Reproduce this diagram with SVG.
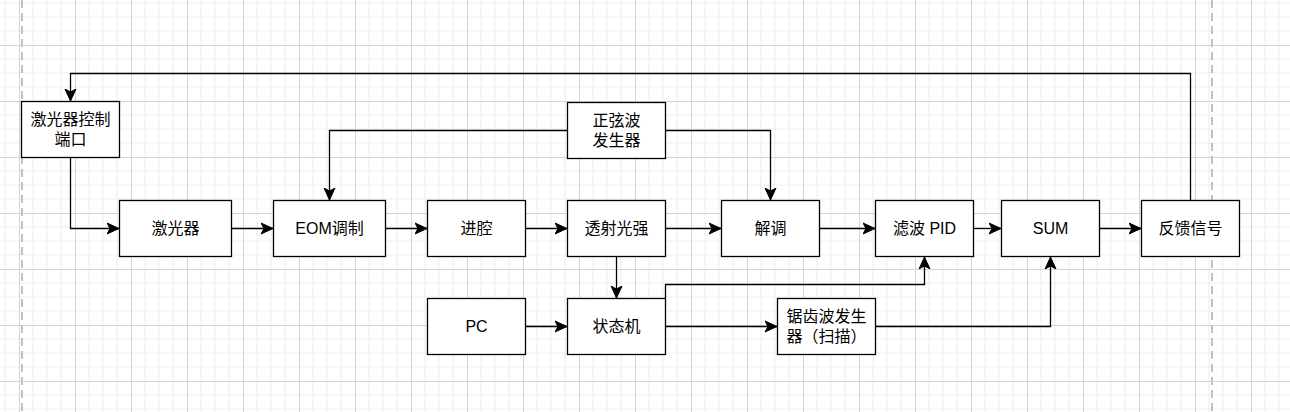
<svg xmlns="http://www.w3.org/2000/svg" width="1290" height="412" viewBox="0 0 1290 412">
<style>
.box{fill:#ffffff;stroke:#000000;stroke-width:1.3}
.lbl{font-family:"Liberation Sans","Noto Sans CJK SC",sans-serif;font-size:16px;fill:#000000;text-anchor:middle;dominant-baseline:central}
.edge{fill:none;stroke:#000000;stroke-width:1.3}
</style>
<defs>
<pattern id="grid" patternUnits="userSpaceOnUse" x="19" y="45" width="56" height="56">
<rect width="56" height="56" fill="#ffffff"/>
<path d="M14 0V56M28 0V56M42 0V56M0 14H56M0 28H56M0 42H56" stroke="#f0f0f0" stroke-width="1.2"/>
<path d="M0.5 0V56M0 0.5H56" stroke="#d4d4d4" stroke-width="1"/>
</pattern>
<marker id="arr" markerUnits="userSpaceOnUse" markerWidth="14" markerHeight="14" viewBox="-12 -7 14 14" refX="0" refY="0" orient="auto">
<path d="M0 0L-12 -5.5L-9 0L-12 5.5Z" fill="#000000" stroke="#000000" stroke-width="1"/>
</marker>
</defs>
<rect width="1290" height="412" fill="url(#grid)"/>
<path d="M22 0V412M1212 0V412" stroke="#c0c0c0" stroke-width="2" stroke-dasharray="8 5"/>
<g id="connectors">
<path class="edge" d="M1190.5 200V73.5H70.5V101" marker-end="url(#arr)"/>
<path class="edge" d="M70.5 158V228.5H119" marker-end="url(#arr)"/>
<path class="edge" d="M231.5 228.5H273" marker-end="url(#arr)"/>
<path class="edge" d="M385.5 228.5H427" marker-end="url(#arr)"/>
<path class="edge" d="M525.5 228.5H567" marker-end="url(#arr)"/>
<path class="edge" d="M665.5 228.5H721" marker-end="url(#arr)"/>
<path class="edge" d="M819.5 228.5H875" marker-end="url(#arr)"/>
<path class="edge" d="M973.5 228.5H1001" marker-end="url(#arr)"/>
<path class="edge" d="M1099.5 228.5H1141" marker-end="url(#arr)"/>
<path class="edge" d="M567.5 130.5H329.5V200" marker-end="url(#arr)"/>
<path class="edge" d="M665.5 130.5H770.5V200" marker-end="url(#arr)"/>
<path class="edge" d="M616.5 256.5V298" marker-end="url(#arr)"/>
<path class="edge" d="M665.5 298V284.5H924.5V257" marker-end="url(#arr)"/>
<path class="edge" d="M525.5 326.5H567" marker-end="url(#arr)"/>
<path class="edge" d="M665.5 326.5H777" marker-end="url(#arr)"/>
<path class="edge" d="M875.5 326.5H1050.5V257" marker-end="url(#arr)"/>
</g>
<g id="n-laser-ctrl"><rect class="box" x="21.5" y="101.5" width="98" height="56"/><text class="lbl" x="70.5" y="119.5">激光器控制</text><text class="lbl" x="70.5" y="139.5">端口</text></g>
<g id="n-laser"><rect class="box" x="119.5" y="200.5" width="112" height="56"/><text class="lbl" x="175.5" y="228.5">激光器</text></g>
<g id="n-eom"><rect class="box" x="273.5" y="200.5" width="112" height="56"/><text class="lbl" x="329.5" y="228.5">EOM调制</text></g>
<g id="n-cavity"><rect class="box" x="427.5" y="200.5" width="98" height="56"/><text class="lbl" x="476.5" y="228.5">进腔</text></g>
<g id="n-trans"><rect class="box" x="567.5" y="200.5" width="98" height="56"/><text class="lbl" x="616.5" y="228.5">透射光强</text></g>
<g id="n-demod"><rect class="box" x="721.5" y="200.5" width="98" height="56"/><text class="lbl" x="770.5" y="228.5">解调</text></g>
<g id="n-pid"><rect class="box" x="875.5" y="200.5" width="98" height="56"/><text class="lbl" x="924.5" y="228.5">滤波 PID</text></g>
<g id="n-sum"><rect class="box" x="1001.5" y="200.5" width="98" height="56"/><text class="lbl" x="1050.5" y="228.5">SUM</text></g>
<g id="n-feedback"><rect class="box" x="1141.5" y="200.5" width="98" height="56"/><text class="lbl" x="1190.5" y="228.5">反馈信号</text></g>
<g id="n-sine"><rect class="box" x="567.5" y="102.5" width="98" height="56"/><text class="lbl" x="616.5" y="120.5">正弦波</text><text class="lbl" x="616.5" y="140.5">发生器</text></g>
<g id="n-pc"><rect class="box" x="427.5" y="298.5" width="98" height="56"/><text class="lbl" x="476.5" y="326.5">PC</text></g>
<g id="n-fsm"><rect class="box" x="567.5" y="298.5" width="98" height="56"/><text class="lbl" x="616.5" y="326.5">状态机</text></g>
<g id="n-saw"><rect class="box" x="777.5" y="298.5" width="98" height="56"/><text class="lbl" x="826.5" y="316.5">锯齿波发生</text><text class="lbl" x="826.5" y="336.5">器（扫描）</text></g>
</svg>
